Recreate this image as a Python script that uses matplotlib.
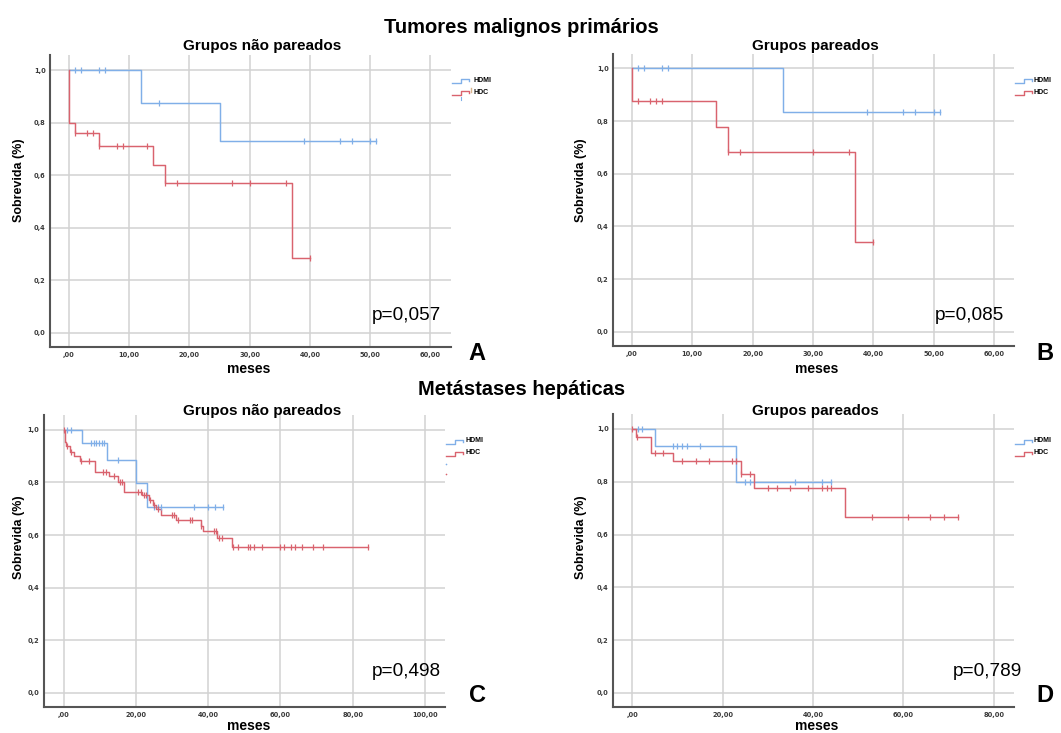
import matplotlib
matplotlib.use("Agg")
import matplotlib.pyplot as plt
from matplotlib.lines import Line2D

# ---- data ----
# event times (drops), survival after each drop, censor times

# A: primary tumours, unmatched
a_hdmi_t = [12, 25]
a_hdmi_s = [0.875, 0.729]
a_hdmi_c = [1, 2, 5, 6, 15, 39, 45, 47, 50, 51]
a_hdc_t = [0, 1, 5, 14, 16, 37]
a_hdc_s = [0.80, 0.762, 0.709, 0.640, 0.569, 0.285]
a_hdc_c = [1, 3, 4, 5, 8, 9, 13, 16, 18, 27, 30, 36, 40]

# B: primary tumours, matched
b_hdmi_t = [25]
b_hdmi_s = [0.833]
b_hdmi_c = [1, 2, 5, 6, 39, 45, 47, 50, 51]
b_hdc_t = [0, 14, 16, 37]
b_hdc_s = [0.875, 0.778, 0.681, 0.341]
b_hdc_c = [1, 3, 4, 5, 16, 18, 30, 36, 40]

# C: liver metastases, unmatched
c_hdmi_t = [5, 12, 20, 23]
c_hdmi_s = [0.952, 0.884, 0.797, 0.707]
c_hdmi_c = [1, 2, 7.6, 8.3, 9, 9.7, 10.5, 11.1, 15, 25, 26, 27, 36, 40, 42, 44]
c_hdc_t = [0.3, 0.8, 1.8, 3.0, 4.4, 8.8, 12.7, 15, 16.8, 21.8, 23.7, 24.6,
           25.5, 26.9, 31, 37.9, 38.5, 42.5, 46.6]
c_hdc_s = [0.955, 0.938, 0.916, 0.900, 0.880, 0.839, 0.826, 0.800, 0.765,
           0.752, 0.732, 0.716, 0.698, 0.677, 0.659, 0.636, 0.615, 0.590, 0.556]
c_hdc_c = [0, 0.9, 2.1, 4.9, 7, 10.8, 11.7, 14, 15.5, 16.2, 20.6, 21.4, 22.3,
           22.8, 24, 25, 26, 29.9, 30.5, 31.7, 34.9, 35.6, 38, 41.6, 42.2, 43,
           43.7, 47, 48.2, 51, 51.7, 52.7, 54.9, 60, 61.1, 63, 64, 66.1, 69.1,
           71.9, 84.1]

# D: liver metastases, matched
d_hdmi_t = [5.1, 23]
d_hdmi_s = [0.935, 0.80]
d_hdmi_c = [1.2, 2.1, 8.9, 10, 10.9, 12, 15, 25, 26, 36, 42, 44]
d_hdc_t = [0.8, 4.1, 8.9, 24, 27, 47]
d_hdc_s = [0.970, 0.909, 0.877, 0.831, 0.777, 0.666]
d_hdc_c = [0, 1, 5.1, 6.9, 10.9, 14, 17, 22, 23, 24, 26, 30, 32, 35, 39, 42,
           43, 44, 53, 61, 66, 69, 72]

p_values = ["p=0,057", "p=0,085", "p=0,498", "p=0,789"]
panel_letters = ["A", "B", "C", "D"]
titles = ["Grupos não pareados", "Grupos pareados",
          "Grupos não pareados", "Grupos pareados"]
groups = ["HDMI", "HDC"]

BLUE = "#80afe8"
RED = "#d9636e"
W, H = 1061, 733

fig = plt.figure(figsize=(10.61, 7.33), dpi=100)


def fx(px):
    return px / W


def fy(py):
    return 1 - py / H


def km(ax, times, surv, cens, color):
    end = max(list(times) + list(cens))
    xs = [0] + list(times) + [end]
    ys = [1.0] + list(surv) + [surv[-1]]
    ax.step(xs, ys, where="post", color=color, lw=1.05, zorder=3)
    cy = []
    for c in cens:
        lev = 1.0
        for t, s in zip(times, surv):
            if t <= c:
                lev = s
        cy.append(lev)
    ax.plot(cens, cy, ls="none", marker="|", ms=5, mew=0.9, color=color, zorder=4)


def fmt_x(v):
    if v == 0:
        return ",00"
    return f"{v:.2f}".replace(".", ",")


# pixel boxes: left, right, top, bottom, xlim, xticks
panels = [
    (50, 450.6, 55.4, 346.8, (-3.15, 63.36), range(0, 61, 10)),
    (613, 1013.6, 53.7, 346.0, (-3.13, 63.27), range(0, 61, 10)),
    (43.9, 444.9, 415.2, 707.0, (-5.45, 105.5), range(0, 101, 20)),
    (613, 1013.6, 414.2, 707.1, (-4.27, 84.4), range(0, 81, 20)),
]
curves = [
    ((a_hdmi_t, a_hdmi_s, a_hdmi_c), (a_hdc_t, a_hdc_s, a_hdc_c)),
    ((b_hdmi_t, b_hdmi_s, b_hdmi_c), (b_hdc_t, b_hdc_s, b_hdc_c)),
    ((c_hdmi_t, c_hdmi_s, c_hdmi_c), (c_hdc_t, c_hdc_s, c_hdc_c)),
    ((d_hdmi_t, d_hdmi_s, d_hdmi_c), (d_hdc_t, d_hdc_s, d_hdc_c)),
]

yticks = [0, 0.2, 0.4, 0.6, 0.8, 1.0]
for i, (l, r, t, b, xlim, xt) in enumerate(panels):
    ax = fig.add_axes([fx(l), fy(b), (r - l) / W, (b - t) / H])
    ax.set_xlim(xlim)
    ax.set_ylim(-0.054, 1.056)
    ax.set_xticks(list(xt))
    ax.set_xticklabels([fmt_x(v) for v in xt], fontsize=4.8, fontweight="bold",
                       color="#3a3a3a", family="DejaVu Sans")
    ax.set_yticks(yticks)
    ax.set_yticklabels([f"{v:.1f}".replace(".", ",") for v in yticks], fontsize=4.8,
                       fontweight="bold", color="#3a3a3a", family="DejaVu Sans")
    ax.tick_params(length=0)
    ax.tick_params(axis="x", pad=3.8)
    ax.tick_params(axis="y", pad=3.2)
    ax.grid(True, color="#d2d2d2", lw=1.1)
    ax.set_axisbelow(True)
    ax.spines["top"].set_visible(False)
    ax.spines["right"].set_visible(False)
    for s in ["left", "bottom"]:
        ax.spines[s].set_color("#555555")
        ax.spines[s].set_linewidth(1.5)
    (ht, hs, hc), (ct, cs, cc) = curves[i]
    km(ax, ht, hs, hc, BLUE)
    km(ax, ct, cs, cc, RED)

# panel texts
title_pos = [(262, 46), (815, 46), (262, 411), (815, 411)]
ylab_pos = [(18.6, 180), (580.8, 180), (18.6, 537), (580.8, 537)]
xlab_pos = [(249, 373), (817, 373), (249, 730), (817, 730)]
p_pos = [(441, 315), (1004, 315), (441, 672), (1022, 672)]
let_pos = [(477, 354), (1045, 354), (477, 695), (1045, 696)]
leg_pos = [(452, 80, 473), (1015, 80, 1033), (446, 441, 465), (1015, 441, 1033)]

for i in range(4):
    fig.text(fx(title_pos[i][0]), fy(title_pos[i][1]), titles[i], ha="center",
             va="center", fontsize=11, fontweight="bold", family="Liberation Sans")
    fig.text(fx(ylab_pos[i][0]), fy(ylab_pos[i][1]), "Sobrevida (%)", rotation=90,
             ha="center", va="center", fontsize=9, fontweight="bold",
             family="Liberation Sans")
    fig.text(fx(xlab_pos[i][0]), fy(xlab_pos[i][1]), "meses", ha="center",
             va="baseline", fontsize=10, fontweight="bold", family="Liberation Sans")
    fig.text(fx(p_pos[i][0]), fy(p_pos[i][1]), p_values[i], ha="right", va="center",
             fontsize=13.7, family="Liberation Sans")
    fig.text(fx(let_pos[i][0]), fy(let_pos[i][1]), panel_letters[i], ha="center",
             va="center", fontsize=17, fontweight="bold", family="Liberation Sans")
    # legend with small step icons
    x0, y0, xt = leg_pos[i]
    for j, (g, col) in enumerate(zip(groups, [BLUE, RED])):
        yy = y0 + j * 12
        px = [x0, x0 + 9, x0 + 9, x0 + 17, x0 + 17]
        py = [yy + 2.5, yy + 2.5, yy - 1.5, yy - 1.5, yy + 0.5]
        fig.add_artist(Line2D([fx(v) for v in px], [fy(v) for v in py],
                              transform=fig.transFigure, color=col, lw=1.0))
        fig.text(fx(xt), fy(yy), g, ha="left", va="center", fontsize=5,
                 fontweight="bold", family="Liberation Sans")

# small leftover legend marks seen in the reference
fig.add_artist(Line2D([fx(470.8)] * 2, [fy(88), fy(92)], transform=fig.transFigure,
                      color="#d8b48c", lw=1.0))
fig.add_artist(Line2D([fx(460.5)] * 2, [fy(97), fy(100)], transform=fig.transFigure,
                      color=BLUE, lw=0.8))
fig.add_artist(Line2D([fx(446)], [fy(463.5)], transform=fig.transFigure, ls="none",
                      marker="o", ms=1.2, color=BLUE, mew=0))
fig.add_artist(Line2D([fx(446)], [fy(473.5)], transform=fig.transFigure, ls="none",
                      marker="o", ms=1.2, color=RED, mew=0))

# suptitles
fig.text(fx(521), fy(33), "Tumores malignos primários", ha="center", va="baseline",
         fontsize=14.5, fontweight="bold", family="Liberation Sans")
fig.text(fx(522), fy(395), "Metástases hepáticas", ha="center", va="baseline",
         fontsize=14.5, fontweight="bold", family="Liberation Sans")

fig.savefig("out.png", dpi=100, facecolor="white")
